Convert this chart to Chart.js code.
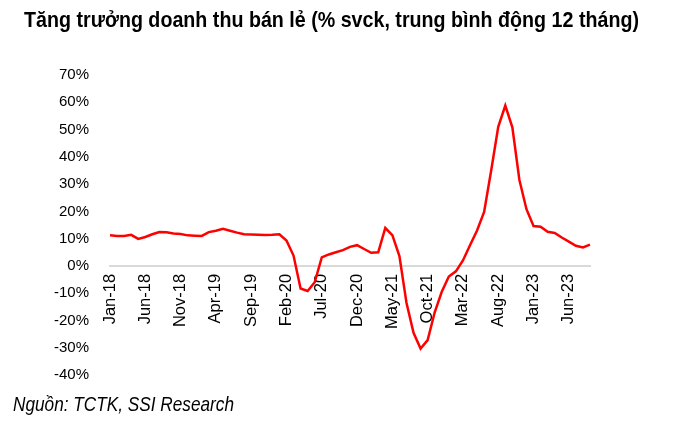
<!DOCTYPE html>
<html>
<head>
<meta charset="utf-8">
<script src="https://cdn.jsdelivr.net/npm/chart.js@4/dist/chart.umd.min.js"></script>
<style>
  html, body { margin: 0; padding: 0; background: #fff; }
  #wrap { position: relative; width: 700px; height: 429px; }
  .narrow { font-family: 'Liberation Sans Narrow', 'Arial Narrow', 'Liberation Sans', Arial, sans-serif; color: #000; transform-origin: 0 0; }
  #title { position: absolute; left: 24px; top: 7px; font-size: 22px; font-weight: bold; white-space: nowrap; }
  #source { position: absolute; left: 13px; top: 392px; font-size: 21px; font-style: italic; white-space: nowrap; }
  canvas { position: absolute; left: 0; top: 0; }
</style>
</head>
<body>
<div id="wrap">
  <canvas id="chart" width="700" height="429"></canvas>
  <div id="title" class="narrow">Tăng trưởng doanh thu bán lẻ (% svck, trung bình động 12 tháng)</div>
  <div id="source" class="narrow">Nguồn: TCTK, SSI Research</div>
</div>
<script>
// months Jan-18 .. Sep-23
const months = [
  'Jan-18','Feb-18','Mar-18','Apr-18','May-18','Jun-18','Jul-18','Aug-18','Sep-18','Oct-18','Nov-18','Dec-18',
  'Jan-19','Feb-19','Mar-19','Apr-19','May-19','Jun-19','Jul-19','Aug-19','Sep-19','Oct-19','Nov-19','Dec-19',
  'Jan-20','Feb-20','Mar-20','Apr-20','May-20','Jun-20','Jul-20','Aug-20','Sep-20','Oct-20','Nov-20','Dec-20',
  'Jan-21','Feb-21','Mar-21','Apr-21','May-21','Jun-21','Jul-21','Aug-21','Sep-21','Oct-21','Nov-21','Dec-21',
  'Jan-22','Feb-22','Mar-22','Apr-22','May-22','Jun-22','Jul-22','Aug-22','Sep-22','Oct-22','Nov-22','Dec-22',
  'Jan-23','Feb-23','Mar-23','Apr-23','May-23','Jun-23','Jul-23','Aug-23','Sep-23'
];

// retail sales growth, % yoy, 12m moving average
const retailGrowth = [
  11.2, 11.0, 11.0, 11.4, 9.9, 10.6, 11.6, 12.4, 12.3, 11.9, 11.7, 11.2,
  11.1, 11.0, 12.4, 12.9, 13.6, 12.9, 12.2, 11.6, 11.5, 11.4, 11.3, 11.4,
  11.6, 9.3, 3.8, -8.3, -9.2, -6.0, 3.1, 4.2, 5.0, 5.8, 7.0, 7.6,
  6.2, 4.8, 5.0, 13.9, 11.3, 3.6, -13.5, -24.5, -30.3, -27.2, -17.0, -9.5,
  -3.9, -2.0, 2.0, 7.6, 13.0, 19.8, 35.0, 51.0, 58.8, 50.8, 31.5, 20.8,
  14.6, 14.4, 12.5, 12.1, 10.4, 8.9, 7.4, 6.8, 7.8
];

// every 5th month gets a label
const labelEvery = 5;
const yMin = -40, yMax = 70, yStep = 10;

const fontFamily = "'Liberation Sans Narrow', 'Arial Narrow', 'Liberation Sans', Arial, sans-serif";

// no narrow font installed: squeeze the html texts to the reference widths
function squeeze(id, targetWidth) {
  const el = document.getElementById(id);
  const w = el.getBoundingClientRect().width;
  if (w > targetWidth) el.style.transform = 'scaleX(' + (targetWidth / w) + ')';
}
squeeze('title', 615);
squeeze('source', 221);

new Chart(document.getElementById('chart'), {
  type: 'line',
  data: {
    labels: months,
    datasets: [{
      label: 'Tăng trưởng doanh thu bán lẻ',
      data: retailGrowth,
      borderColor: '#ff0000',
      borderWidth: 2.5,
      pointRadius: 0,
      tension: 0,
      fill: false
    }]
  },
  options: {
    responsive: false,
    animation: false,
    layout: { padding: { left: 0, right: 110, top: 75, bottom: 54 } },
    plugins: { legend: { display: false }, tooltip: { enabled: false } },
    scales: {
      x: {
        position: { y: 0 },
        offset: false,
        grid: { display: false, drawTicks: false },
        border: { display: true, color: '#d9d9d9', width: 2 },
        ticks: {
          autoSkip: false,
          minRotation: 90,
          maxRotation: 90,
          padding: 8,
          color: '#000',
          font: { family: fontFamily, size: 16.5 },
          callback: function (v, i) { return i % labelEvery === 0 ? months[i] : null; }
        }
      },
      y: {
        min: yMin,
        max: yMax,
        afterFit: s => { s.width = 110; },
        grid: { display: false, drawTicks: false },
        border: { display: false },
        ticks: {
          stepSize: yStep,
          padding: 21,
          color: '#000',
          font: { family: fontFamily, size: 15 },
          callback: v => v + '%'
        }
      }
    }
  }
});
</script>
</body>
</html>
